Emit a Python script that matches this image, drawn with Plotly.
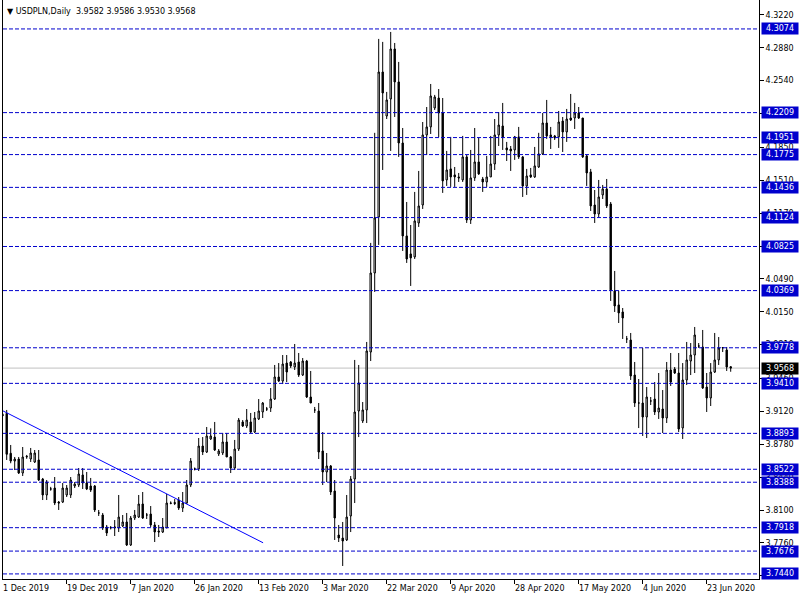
import plotly.graph_objects as go

# ---------------- data (USDPLN daily, bar index 0 = 1 Dec 2019) ----------------
opens = [3.9085,3.9100,3.8687,3.8607,3.8628,3.8483,3.8649,3.8628,3.8597,3.8618,
         3.8421,3.8256,3.8318,3.8328,3.8183,3.8183,3.8256,3.8256,3.8349,3.8359,
         3.8463,3.8380,3.8349,3.8349,3.8070,3.8049,3.7925,3.7915,3.7915,3.7915,
         3.7935,3.7977,3.7739,3.8018,3.8028,3.8163,3.8049,3.8059,3.7946,3.7884,
         3.7873,3.7915,3.8173,3.8178,3.8204,3.8121,3.8173,3.8359,3.8525,3.8525,
         3.8762,3.8700,3.8835,3.8855,3.8680,3.8690,3.8804,3.8649,3.8535,3.8731,
         3.9011,3.8969,3.9011,3.8907,3.9042,3.9114,3.9145,3.9155,3.9248,3.9476,
         3.9434,3.9620,3.9631,3.9579,3.9631,3.9496,3.9641,3.9269,3.9135,3.9124,
         3.8711,3.8494,3.8556,3.8297,3.7842,3.7811,3.7791,3.8039,3.8421,3.9124,
         3.9021,3.9135,3.9734,4.0551,4.1130,4.2629,4.2174,4.2350,4.2867,4.2526,
         4.1895,4.0934,4.0748,4.0717,4.1068,4.1254,4.1978,4.2061,4.2257,4.2360,
         4.2205,4.1513,4.1627,4.1565,4.1544,4.1513,4.1751,4.1099,4.1534,4.1699,
         4.1523,4.1492,4.1544,4.1678,4.1978,4.2071,4.1844,4.1833,4.1823,4.1958,
         4.1751,4.1451,4.1565,4.1544,4.1647,4.1782,4.2102,4.1978,4.1968,4.1958,
         4.2122,4.2009,4.2153,4.2153,4.2205,4.2153,4.1761,4.1596,4.1254,4.1161,
         4.1358,4.1420,4.1264,4.0365,4.0221,4.0148,3.9869,3.9858,3.9496,3.9207,
         3.9207,3.9062,3.9228,3.9248,3.9114,3.9145,3.9052,3.9548,3.9558,3.9517,
         3.8949,3.9445,3.9641,3.9703,3.9796,3.9786,3.9372,3.9259,3.9527,3.9652,
         3.9776,3.9755,3.9582]
highs = [3.9100,3.9135,3.8773,3.8649,3.8649,3.8752,3.8670,3.8742,3.8721,3.8721,
         3.8432,3.8411,3.8340,3.8442,3.8194,3.8380,3.8359,3.8442,3.8390,3.8535,
         3.8535,3.8494,3.8432,3.8359,3.8101,3.8070,3.7946,3.7935,3.7997,3.8256,
         3.8049,3.8070,3.8039,3.8101,3.8256,3.8287,3.8070,3.8142,3.7977,3.7946,
         3.8018,3.8266,3.8190,3.8214,3.8235,3.8287,3.8411,3.8638,3.8540,3.8845,
         3.8855,3.8959,3.8945,3.9011,3.8731,3.8897,3.8897,3.8659,3.8825,3.9052,
         3.9031,3.9145,3.9104,3.9114,3.9248,3.9217,3.9166,3.9362,3.9600,3.9620,
         3.9703,3.9703,3.9641,3.9817,3.9724,3.9672,3.9652,3.9538,3.9166,3.9207,
         3.8907,3.8690,3.8566,3.8411,3.7946,3.7977,3.8256,3.8452,3.9652,3.9600,
         3.9217,3.9838,4.0862,4.2000,4.2971,4.2940,4.2423,4.3043,4.2929,4.2733,
         4.2050,4.1285,4.1047,4.1389,4.1606,4.2112,4.2267,4.2505,4.2392,4.2453,
         4.2360,4.1813,4.1958,4.1647,4.1585,4.1968,4.1771,4.1823,4.2050,4.1947,
         4.1544,4.1761,4.1968,4.2143,4.2215,4.2309,4.1906,4.1864,4.1968,4.2061,
         4.1761,4.1627,4.1637,4.1854,4.2000,4.2205,4.2340,4.2061,4.1978,4.2226,
         4.2164,4.2247,4.2402,4.2309,4.2267,4.2153,4.1771,4.1627,4.1409,4.1513,
         4.1461,4.1523,4.1285,4.0572,4.0365,4.0189,3.9900,3.9931,3.9631,3.9455,
         3.9776,3.9372,3.9269,3.9424,3.9517,3.9341,3.9631,3.9724,3.9579,3.9724,
         3.9620,3.9838,3.9827,3.9993,3.9827,3.9962,3.9517,3.9620,3.9931,3.9889,
         3.9786,3.9786,3.9586]
lows = [3.9070,3.8618,3.8584,3.8514,3.8473,3.8452,3.8630,3.8597,3.8587,3.8401,
        3.8204,3.8204,3.8300,3.8152,3.8101,3.8173,3.8235,3.8225,3.8328,3.8338,
        3.8318,3.8307,3.8287,3.8080,3.8039,3.7894,3.7832,3.7900,3.7832,3.7873,
        3.7925,3.7729,3.7729,3.7997,3.8018,3.8008,3.8008,3.7925,3.7770,3.7822,
        3.7863,3.7915,3.8160,3.8152,3.8101,3.8080,3.8163,3.8338,3.8510,3.8504,
        3.8669,3.8690,3.8825,3.8711,3.8659,3.8669,3.8649,3.8483,3.8514,3.8711,
        3.8959,3.8949,3.8897,3.8897,3.9031,3.9052,3.9124,3.9114,3.9238,3.9424,
        3.9403,3.9424,3.9569,3.9548,3.9476,3.9486,3.9259,3.9207,3.9104,3.8628,
        3.8359,3.8390,3.8256,3.7791,3.7770,3.7522,3.7780,3.7873,3.8173,3.8855,
        3.9000,3.9000,3.9641,4.0355,4.0841,4.1616,4.2143,4.1813,4.2164,4.1751,
        4.0779,4.0655,4.0417,4.0696,4.1027,4.1213,4.1771,4.1988,4.2236,4.1957,
        4.1379,4.1451,4.1441,4.1441,4.1492,4.1492,4.1068,4.1058,4.1503,4.1565,
        4.1389,4.1441,4.1544,4.1616,4.1864,4.1823,4.1709,4.1606,4.1720,4.1730,
        4.1337,4.1358,4.1534,4.1534,4.1637,4.1771,4.1937,4.1833,4.1926,4.1844,
        4.1802,4.1906,4.2122,4.2040,4.2143,4.1740,4.1451,4.1192,4.1068,4.1130,
        4.1316,4.1223,4.0262,4.0148,4.0034,3.9869,3.9827,3.9445,3.9166,3.8948,
        3.8866,3.8845,3.9186,3.9083,3.9042,3.8897,3.9000,3.9383,3.9507,3.8907,
        3.8835,3.9393,3.9496,3.9517,3.9776,3.9352,3.9114,3.9176,3.9517,3.9600,
        3.9734,3.9538,3.9530]
closes = [3.9080,3.8677,3.8607,3.8628,3.8483,3.8649,3.8655,3.8690,3.8690,3.8411,
          3.8256,3.8390,3.8318,3.8173,3.8173,3.8328,3.8328,3.8411,3.8369,3.8473,
          3.8380,3.8318,3.8307,3.8101,3.8070,3.7915,3.7863,3.7920,3.7925,3.8028,
          3.7977,3.7739,3.8018,3.8049,3.8163,3.8018,3.8049,3.7946,3.7873,3.7873,
          3.7925,3.8173,3.8170,3.8168,3.8121,3.8173,3.8359,3.8607,3.8525,3.8762,
          3.8700,3.8866,3.8866,3.8721,3.8711,3.8804,3.8649,3.8535,3.8731,3.9031,
          3.8969,3.9031,3.8907,3.9052,3.9124,3.9207,3.9145,3.9248,3.9476,3.9434,
          3.9610,3.9527,3.9590,3.9620,3.9496,3.9641,3.9269,3.9207,3.9135,3.8700,
          3.8494,3.8556,3.8287,3.8018,3.7811,3.7780,3.8028,3.8421,3.9114,3.9414,
          3.9135,3.9745,4.0551,4.1120,4.2629,4.2412,4.2340,4.2867,4.2526,4.1895,
          4.0934,4.0696,4.0707,4.1089,4.1244,4.1978,4.2061,4.2381,4.2371,4.2205,
          4.1503,4.1616,4.1544,4.1544,4.1534,4.1751,4.1099,4.1534,4.1699,4.1575,
          4.1492,4.1544,4.1678,4.1978,4.2081,4.1958,4.1823,4.1813,4.1958,4.1751,
          4.1451,4.1554,4.1544,4.1658,4.1782,4.2102,4.1968,4.1958,4.1947,4.2112,
          4.2009,4.2143,4.2133,4.2205,4.2153,4.1751,4.1585,4.1244,4.1161,4.1337,
          4.1420,4.1244,4.0376,4.0210,4.0138,4.0086,3.9869,3.9486,3.9207,3.9207,
          3.9062,3.9269,3.9228,3.9114,3.9155,3.9052,3.9548,3.9424,3.9517,3.8938,
          3.9445,3.9652,3.9703,3.9910,3.9796,3.9362,3.9259,3.9527,3.9652,3.9776,
          3.9780,3.9579,3.9568]
bars = list(range(len(opens)))

date_tick_bars = [0, 16, 32, 48, 64, 80, 96, 112, 128, 144, 160, 176]
date_tick_labels = ["1 Dec 2019", "19 Dec 2019", "7 Jan 2020", "26 Jan 2020",
                    "13 Feb 2020", "3 Mar 2020", "22 Mar 2020", "9 Apr 2020",
                    "28 Apr 2020", "17 May 2020", "4 Jun 2020", "23 Jun 2020"]

price_ticks = [4.3220, 4.2880, 4.2540, 4.2200, 4.1850, 4.1510, 4.1170, 4.0830,
               4.0490, 4.0150, 3.9810, 3.9460, 3.9120, 3.8780, 3.8440, 3.8100,
               3.7760, 3.7420]
price_tick_labels = ["%.4f" % v for v in price_ticks]

levels = [4.3074, 4.2209, 4.1951, 4.1775, 4.1436, 4.1124, 4.0825, 4.0369,
          3.9778, 3.9410, 3.8893, 3.8522, 3.8388, 3.7918, 3.7676, 3.7440]

trend_bars = [0, 65.1]
trend_prices = [3.9127, 3.7762]

header_ohlc = [3.9582, 3.9586, 3.9530, 3.9568]
last_price = 3.9568

# ---------------- figure ----------------
FONT = "DejaVu Sans"
BLUE = "#0000CD"
W, H = 800, 600
ML, MR, MT, MB = 3, 41, 0, 21
PW = W - ML - MR
PH = H - MT - MB
BAR_PX = 4.0
x0 = 0.075
x1 = x0 + PW / BAR_PX

fig = go.Figure()
fig.add_trace(go.Candlestick(
    x=bars, open=opens, high=highs, low=lows, close=closes,
    increasing=dict(line=dict(color="black", width=1), fillcolor="white"),
    decreasing=dict(line=dict(color="black", width=1), fillcolor="black"),
    whiskerwidth=0, hoverinfo="skip", showlegend=False,
))

shapes = []
shapes.append(dict(type="line", xref="paper", yref="y", x0=0, x1=1,
                   y0=last_price, y1=last_price,
                   line=dict(color="#C0C0C0", width=1), layer="below"))
for lv in levels:
    shapes.append(dict(type="line", xref="paper", yref="y", x0=0, x1=1,
                       y0=lv, y1=lv,
                       line=dict(color=BLUE, width=1, dash="4px,2px"), layer="above"))
shapes.append(dict(type="line", xref="x", yref="y",
                   x0=trend_bars[0], x1=trend_bars[1],
                   y0=trend_prices[0], y1=trend_prices[1],
                   line=dict(color="#0000FF", width=1), layer="above"))

annotations = []
lab_x = 1 + 2.0 / PW
for lv in levels:
    annotations.append(dict(xref="paper", yref="y", x=lab_x, y=lv,
                            xanchor="left", yanchor="middle", showarrow=False,
                            text="%.4f" % lv, font=dict(family=FONT, size=8, color="white"),
                            bgcolor=BLUE, width=34, height=9, borderpad=1, align="center"))
annotations.append(dict(xref="paper", yref="y", x=lab_x, y=last_price,
                        xanchor="left", yanchor="middle", showarrow=False,
                        text="%.4f" % last_price, font=dict(family=FONT, size=8, color="white"),
                        bgcolor="black", width=34, height=9, borderpad=1, align="center"))
for b, t in zip(date_tick_bars, date_tick_labels):
    annotations.append(dict(xref="paper", yref="paper", x=(b - x0) / (x1 - x0), y=-9.5 / PH,
                            xanchor="left", yanchor="middle", showarrow=False,
                            xshift=-2, text=t, font=dict(family=FONT, size=8, color="black")))
annotations.append(dict(xref="paper", yref="paper", x=2.0 / PW, y=1 - 11.5 / PH,
                        xanchor="left", yanchor="middle", showarrow=False,
                        text="\u25BC USDPLN,Daily  " + " ".join("%.4f" % v for v in header_ohlc),
                        font=dict(family=FONT, size=8, color="black")))

fig.update_layout(
    width=W, height=H,
    margin=dict(l=ML, r=MR, t=MT, b=MB, pad=0),
    paper_bgcolor="white", plot_bgcolor="white",
    boxgap=0.5,
    shapes=shapes, annotations=annotations,
    showlegend=False,
    xaxis=dict(range=[x0, x1], showgrid=False, zeroline=False,
               rangeslider=dict(visible=False),
               tickmode="array", tickvals=date_tick_bars, showticklabels=False,
               ticks="outside", ticklen=4, tickcolor="black",
               showline=True, linecolor="black", linewidth=1),
    yaxis=dict(range=[3.9238 - 179 * 0.0010338, 3.9238 + 400 * 0.0010338],
               side="right", showgrid=False, zeroline=False,
               tickmode="array", tickvals=price_ticks, ticktext=price_tick_labels,
               ticks="outside", ticklen=4, tickcolor="black",
               tickfont=dict(family=FONT, size=8, color="black"),
               showline=True, linecolor="black", linewidth=1, mirror=True,
               automargin=False),
)

fig.write_html("out.html",
               config={"displayModeBar": False},
               post_script="document.body.style.margin='0px';document.body.style.padding='0px';")
